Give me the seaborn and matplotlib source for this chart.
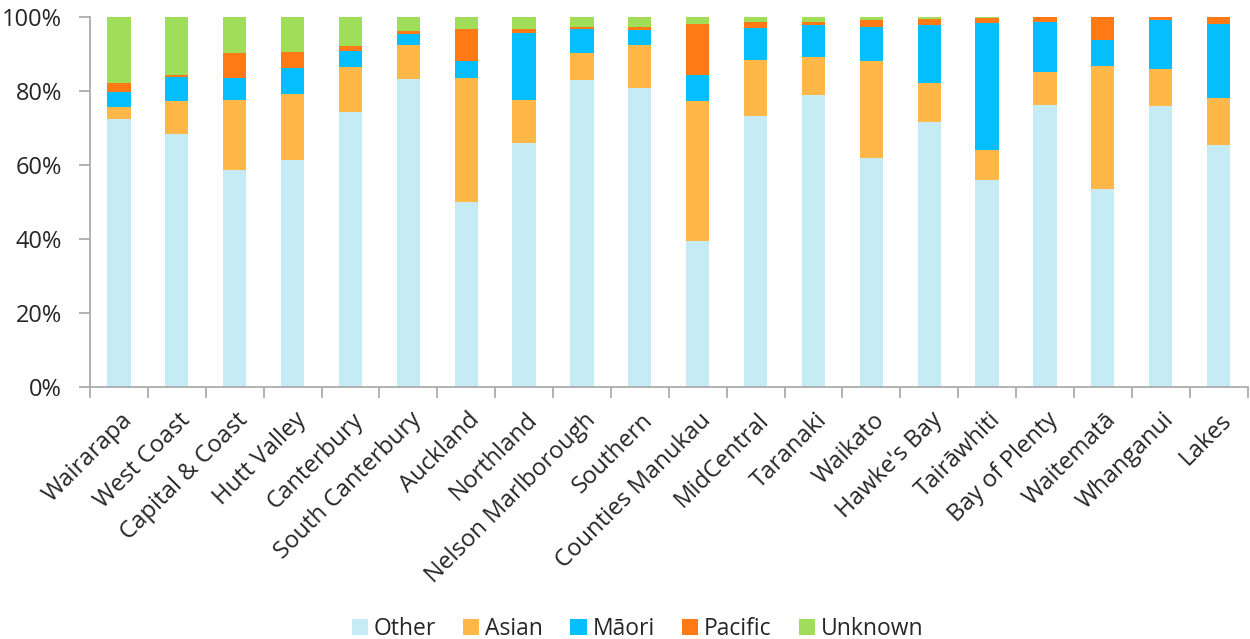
import numpy as np
import pandas as pd
import matplotlib
matplotlib.use("Agg")
import matplotlib.pyplot as plt
import matplotlib.transforms as mtransforms
import seaborn as sns
from matplotlib.patches import Patch
from matplotlib.ticker import PercentFormatter

regions = ["Wairarapa", "West Coast", "Capital & Coast", "Hutt Valley", "Canterbury",
           "South Canterbury", "Auckland", "Northland", "Nelson Marlborough", "Southern",
           "Counties Manukau", "MidCentral", "Taranaki", "Waikato", "Hawke's Bay",
           "Tairāwhiti", "Bay of Plenty", "Waitematā", "Whanganui", "Lakes"]

other   = [72.6, 68.5, 58.8, 61.4, 74.5, 83.2, 50.1, 65.9, 83.0, 80.8,
           39.5, 73.2, 78.9, 62.0, 71.8, 55.9, 76.2, 53.5, 76.1, 65.4]
asian   = [3.1, 8.8, 18.8, 17.8, 12.1, 9.2, 33.5, 11.7, 7.4, 11.6,
           37.8, 15.2, 10.4, 26.1, 10.4, 8.3, 9.1, 33.3, 9.8, 12.8]
maori   = [4.2, 6.6, 5.9, 7.1, 4.4, 3.0, 4.7, 18.2, 6.4, 4.2,
           7.1, 8.8, 8.6, 9.3, 15.6, 34.2, 13.5, 7.1, 13.4, 20.0]
pacific = [2.2, 0.4, 6.9, 4.3, 1.2, 0.9, 8.5, 1.0, 0.6, 0.8,
           13.9, 1.5, 0.8, 1.8, 1.6, 1.4, 1.2, 6.1, 0.7, 1.8]
unknown = [17.9, 15.7, 9.6, 9.4, 7.8, 3.7, 3.2, 3.2, 2.6, 2.6,
           1.7, 1.3, 1.3, 0.8, 0.6, 0.2, 0.0, 0.0, 0.0, 0.0]

groups = ["Other", "Asian", "Māori", "Pacific", "Unknown"]
colours = {"Other": "#C5EBF5", "Asian": "#FFB847", "Māori": "#04BEFE",
           "Pacific": "#FF7A14", "Unknown": "#A0DE5A"}

df = pd.DataFrame({"region": regions, "Other": other, "Asian": asian,
                   "Māori": maori, "Pacific": pacific, "Unknown": unknown})
cum = df[groups].cumsum(axis=1)
cum["region"] = df["region"]

sns.set_theme(style="white")
plt.rcParams["font.family"] = ["Open Sans", "DejaVu Sans"]

fig, ax = plt.subplots(figsize=(12.5, 6.39), dpi=100)
fig.subplots_adjust(left=0.072, right=0.998, top=0.973, bottom=0.394)

# stacked bars: draw the cumulative totals from the top group down
for g in reversed(groups):
    sns.barplot(data=cum, x="region", y=g, color=colours[g], width=0.4,
                saturation=1, edgecolor="none", ax=ax, zorder=2)

ax.set_ylim(0, 100)
ax.set_xlim(-0.5, len(regions) - 0.5)
ax.set_yticks(range(0, 101, 20))
ax.yaxis.set_major_formatter(PercentFormatter(decimals=0))
ax.set_xlabel("")
ax.set_ylabel("")

for side in ["top", "right"]:
    ax.spines[side].set_visible(False)
for side in ["left", "bottom"]:
    ax.spines[side].set_color("#A6A6A6")
    ax.spines[side].set_linewidth(1.2)

ax.tick_params(axis="y", which="major", length=8, width=1.2, color="#A6A6A6",
               direction="out", left=True, labelsize=17, pad=12)
ax.set_xticks(np.arange(len(regions) + 1) - 0.5, minor=True)
ax.tick_params(axis="x", which="minor", length=8, width=1.2, color="#A6A6A6",
               direction="out", bottom=True)
ax.tick_params(axis="x", which="major", length=0, labelsize=17.2, pad=15)
shift = mtransforms.ScaledTranslation(1 / 72, 0, fig.dpi_scale_trans)
for lab in ax.get_xticklabels():
    lab.set_rotation(45)
    lab.set_ha("right")
    lab.set_rotation_mode("anchor")
    lab.set_transform(lab.get_transform() + shift)

handles = [Patch(facecolor=colours[g], edgecolor="none", label=g) for g in groups]
fig.legend(handles=handles, loc="lower center", ncol=5, frameon=False,
           fontsize=16.5, bbox_to_anchor=(0.51, -0.035), handlelength=0.7,
           handleheight=0.7, handletextpad=0.25, columnspacing=1.2)

plt.savefig("out.png", dpi=100)
plt.close()
